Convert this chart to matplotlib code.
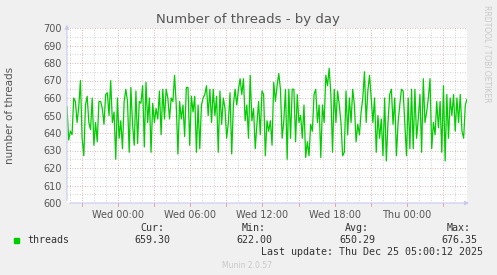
import numpy as np
import matplotlib
matplotlib.use("Agg")
import matplotlib.pyplot as plt

# ---- data (hours relative to Wed 00:00) ----
t_start = -4.25
t_end = 29.0
threads = [
    655, 636, 641, 639, 660, 658, 646, 655, 670, 637, 627, 656, 661, 646, 642, 660, 633, 646,
    635, 658, 658, 654, 645, 662, 663, 650, 670, 646, 652, 625, 660, 637, 647, 631, 658, 665,
    658, 629, 666, 645, 633, 664, 634, 658, 657, 667, 632, 669, 646, 660, 629, 657, 646, 654,
    648, 664, 639, 665, 648, 665, 660, 648, 660, 658, 673, 656, 628, 658, 648, 656, 638, 666,
    666, 633, 661, 652, 661, 629, 656, 631, 656, 660, 662, 667, 650, 665, 646, 665, 650, 661,
    629, 664, 645, 660, 654, 637, 646, 663, 628, 656, 665, 656, 665, 671, 662,
    671, 647, 656, 637, 673, 647, 654, 631, 645, 658, 639, 664, 662, 627, 647, 641, 647, 633,
    669, 658, 667, 674, 665, 637, 647, 665, 625, 665, 637, 665,
    665, 635, 662, 646, 650, 637, 656, 626, 635, 627, 645, 641, 662, 665, 646, 656, 626, 656,
    646, 673, 667, 677, 662, 629, 665, 646, 664, 656, 646, 627, 629, 664, 639, 660, 646, 665,
    656, 635, 645, 639, 652, 660, 675, 646, 664, 673, 660, 646, 660, 629, 650, 637, 648, 627,
    660, 624, 646, 662, 665, 645, 660, 627, 646, 656, 665, 664, 646, 627, 660, 631, 665,
    631, 665, 637, 648, 662, 629, 671, 646, 652, 660, 671, 631, 646, 639, 658, 643, 658, 629,
    667, 624, 662, 637, 660, 650, 662, 641, 660, 646, 662, 641, 637, 656, 659.3,
]
tick_pos = [0, 6, 12, 18, 24]
tick_labels = ["Wed 00:00", "Wed 06:00", "Wed 12:00", "Wed 18:00", "Thu 00:00"]
stat_names = ["Cur:", "Min:", "Avg:", "Max:"]
stat_values = ["659.30", "622.00", "650.29", "676.35"]

W, H = 497, 275
fig = plt.figure(figsize=(W / 100, H / 100), dpi=100)
fig.patch.set_facecolor("#F0F0F0")

ax = fig.add_axes([67 / W, 1 - 203 / H, 400 / W, 175 / H])
ax.set_facecolor("white")

t = np.linspace(t_start, t_end, len(threads))
ax.plot(t, threads, color="#00CC00", lw=0.9, zorder=3)

ax.set_xlim(t_start, t_end)
ax.set_ylim(600, 700)

# grid
for h in np.arange(-4, 30, 1):
    col = "#DC9C9C" if h % 3 == 0 else "#C8C8C8"
    ax.axvline(h, color=col, lw=0.6, ls=(0, (1, 2)), zorder=1)
for v in range(600, 701, 5):
    col = "#DC9C9C" if v % 10 == 0 else "#C8C8C8"
    ax.axhline(v, color=col, lw=0.6, ls=(0, (1, 2)), zorder=1)

for s in ax.spines.values():
    s.set_visible(False)

ax.set_xticks(tick_pos)
ax.set_xticklabels(tick_labels)
ax.set_yticks(range(600, 701, 10))
ax.tick_params(axis="both", length=0, labelsize=7, labelcolor="#555555", pad=4)
ax.tick_params(axis="x", pad=5)

# axis lines with arrows
axcol = "#C8C8F0"
ax.annotate("", xy=(t_start, 1.035), xycoords=("data", "axes fraction"),
            xytext=(t_start, -0.0), textcoords=("data", "axes fraction"),
            arrowprops=dict(arrowstyle="-|>", color=axcol, lw=0.8, mutation_scale=6),
            annotation_clip=False)
ax.annotate("", xy=(1.012, 0), xycoords="axes fraction",
            xytext=(0, 0), textcoords="axes fraction",
            arrowprops=dict(arrowstyle="-|>", color=axcol, lw=0.8, mutation_scale=6),
            annotation_clip=False)
# small tick marks below x axis
for h in np.arange(-3, 30, 3):
    ax.plot([h, h], [600, 598.5], color="#DC9C9C", lw=0.6, clip_on=False, zorder=2)

# titles
fig.text(248 / W, 1 - 19 / H, "Number of threads - by day", ha="center", va="center",
         fontsize=9.5, color="#555555")
fig.text(10 / W, 1 - 115 / H, "number of threads", rotation=90, ha="center", va="center",
         fontsize=7.5, color="#555555")
fig.text(487 / W, 1 - 5 / H, "RRDTOOL / TOBI OETIKER", rotation=270, ha="center", va="top",
         fontsize=5.5, color="#C8C8C8")

# legend
mono = "DejaVu Sans Mono"
fig.patches.append(plt.Rectangle((14 / W, 1 - 243 / H), 5 / W, 5 / H, transform=fig.transFigure,
                                 color="#00CC00", zorder=5))
fig.text(27 / W, 1 - 240 / H, "threads", family=mono, fontsize=7.2, color="#333333",
         ha="left", va="center")
val_right = [170, 272, 375, 477]
for name, val, xr in zip(stat_names, stat_values, val_right):
    fig.text((xr - 6) / W, 1 - 228 / H, name, family=mono, fontsize=7.2, color="#333333",
             ha="right", va="center")
    fig.text(xr / W, 1 - 240 / H, val, family=mono, fontsize=7.2, color="#333333",
             ha="right", va="center")
fig.text(483 / W, 1 - 252 / H, "Last update: Thu Dec 25 05:00:12 2025", family=mono,
         fontsize=7.2, color="#333333", ha="right", va="center")
fig.text(247 / W, 1 - 265 / H, "Munin 2.0.57", fontsize=5.5, color="#C8C8C8",
         ha="center", va="center")

fig.savefig("out.png", dpi=100, facecolor=fig.get_facecolor())
